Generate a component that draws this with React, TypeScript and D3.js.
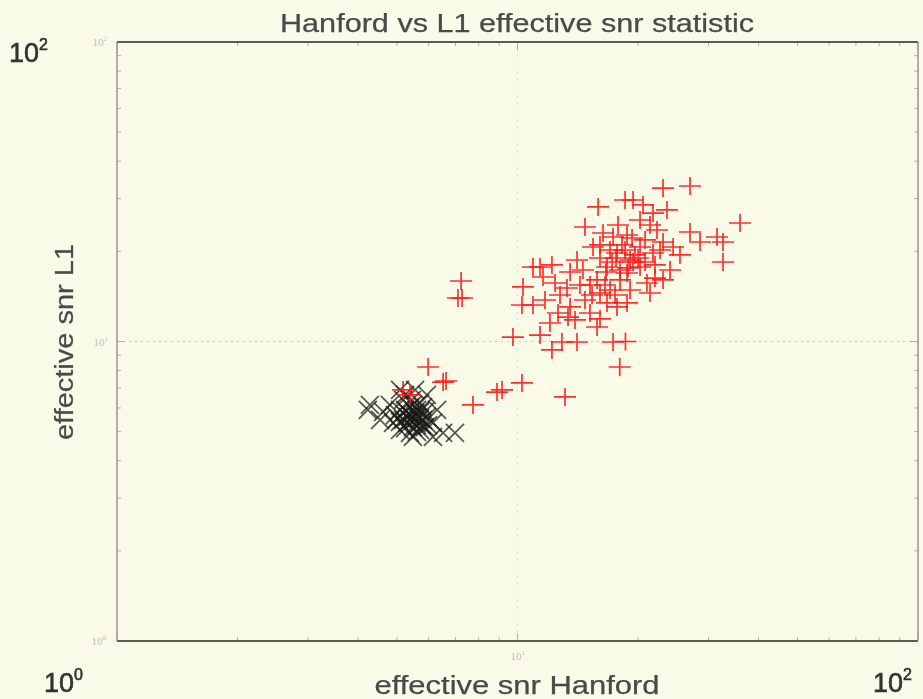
import React from "react";
import * as d3 from "d3";

const title = "Hanford vs L1 effective snr statistic";
const xLabel = "effective snr Hanford";
const yLabel = "effective snr L1";
const domainMin = 1;
const domainMax = 100;
const gridValues = [10];

// Red "+" points: [effective snr Hanford, effective snr L1]
const injX: number[] = [
  7.23, 7.10, 7.27, 5.98, 6.52, 6.63, 7.74, 8.89, 9.15, 10.26, 13.14, 5.39, 5.18, 9.74,
  15.89, 14.74, 18.56, 11.38, 12.19, 10.32, 10.26, 10.93, 12.19, 12.91, 14.08, 11.38,
  12.62, 13.37, 12.05, 13.29, 12.41, 14.08, 14.57, 15.44, 15.80, 17.32, 18.6, 18.0,
  16.07, 16.73, 17.72, 15.80, 16.73, 17.72, 16.35, 17.32, 18.03, 17.02, 15.17, 13.53,
  11.58, 23.09, 26.96, 19.43, 20.58, 23.62, 21.79, 35.94, 26.96, 31.49, 32.60, 28.56,
  23.09, 25.45, 32.60, 24.04, 23.09, 21.42, 18.77, 20.23, 18.77, 20.23, 21.79, 19.10,
  20.23, 18.77, 21.05, 22.30, 24.46, 17.62, 18.56, 19.43, 20.82, 16.54, 21.42, 16.07,
  19.65, 18.03, 17.02, 22.04, 19.10, 15.17, 14.74, 12.77, 11.71, 13.92, 16.07, 10.93,
  17.22, 18.24, 20.0, 18.88, 20.82, 16.63, 15.35, 17.52, 22.69, 19.32, 17.82, 14.32,
  13.53, 16.07, 22.04,
];
const injY: number[] = [
  15.92, 13.97, 13.97, 8.22, 7.32, 7.38, 6.14, 6.78, 6.89, 7.27, 6.53, 6.63, 6.89, 10.35,
  28.13, 24.12, 29.68, 17.73, 18.01, 15.21, 13.24, 13.24, 9.37, 9.96, 9.96, 10.51,
  12.45, 12.07, 11.53, 15.09, 15.68, 18.71, 17.33, 20.68, 11.18, 9.96, 10.0, 8.22,
  14.52, 13.45, 13.04, 16.05, 17.73, 19.75, 23.03, 22.33, 17.33, 14.86, 12.45, 13.04,
  16.42, 32.54, 33.05, 29.68, 28.57, 27.49, 26.85, 24.87, 23.21, 22.33, 21.49, 21.49,
  21.49, 19.45, 18.43, 17.33, 16.05, 14.52, 13.45, 25.45, 22.68, 20.68, 19.75, 18.71,
  17.73, 16.93, 15.68, 23.57, 20.68, 19.00, 20.21, 18.43, 21.83, 15.44, 24.49, 19.00,
  19.45, 16.05, 20.21, 18.01, 14.86, 15.44, 13.76, 14.30, 13.76, 11.80, 11.9, 17.73,
  18.43, 21.01, 19.0, 17.60, 18.43, 17.06, 14.30, 14.30, 20.21, 22.16, 24.49, 15.44,
  17.06, 21.01, 16.29,
];

// Black "x" points: [effective snr Hanford, effective snr L1]
const bgX: number[] = [
  4.28, 4.62, 5.09, 5.55, 5.94, 6.98, 6.52, 6.15, 5.61, 5.39, 4.89, 5.09, 4.80, 5.81,
  5.30, 5.48, 5.94, 5.18, 5.71, 6.30, 4.54, 5.24, 5.39, 5.55, 5.71, 5.48, 5.61, 5.30,
  5.81, 5.87, 5.39, 4.94, 5.09, 5.48, 5.71, 5.18, 5.61, 4.23, 6.15, 5.24,
  5.39, 5.55, 5.71, 5.24, 5.61, 5.87, 5.03, 5.45, 5.98, 5.33, 5.77, 5.09,
];
const bgY: number[] = [
  6.14, 5.82, 6.89, 6.89, 6.63, 4.95, 4.95, 5.35, 5.60, 6.04, 5.35, 5.07, 6.14, 6.04,
  5.60, 5.18, 5.60, 6.38, 5.07, 5.91, 5.47, 5.91, 5.68, 5.47, 5.82, 6.14, 5.26, 5.35,
  5.47, 5.18, 4.95, 5.68, 5.91, 4.80, 6.23, 5.47, 5.91, 5.91, 4.80, 6.63,
  5.47, 5.77, 5.55, 5.14, 4.99, 5.82, 5.55, 6.38, 5.26, 5.77, 5.26, 5.39,
];

const W = 923;
const H = 699;
const left = 117, right = 918, top = 42, bottom = 641;
const font = "'Liberation Sans', Arial, sans-serif";

export default function App() {
  const x = d3.scaleLog().domain([domainMin, domainMax]).range([left, right]);
  const y = d3.scaleLog().domain([domainMin, domainMax]).range([bottom, top]);

  const minor: number[] = [];
  for (let d = 1; d < domainMax; d *= 10) {
    for (let k = 1; k <= 9; k++) minor.push(d * k);
  }
  minor.push(domainMax);

  const redPts = injX.map((v, i) => [x(v), y(injY[i])]);
  const blkPts = bgX.map((v, i) => [x(v), y(bgY[i])]);

  const plusH = 11, plusV = 9, cross = 9;

  return (
    <svg width={W} height={H} style={{ position: "absolute", left: 0, top: 0 }}>
      <defs>
        <filter id="blur" x="-10%" y="-10%" width="120%" height="120%">
          <feGaussianBlur stdDeviation="0.6" />
        </filter>
        <filter id="tblur" x="-5%" y="-20%" width="110%" height="140%">
          <feGaussianBlur stdDeviation="0.5" />
        </filter>
      </defs>
      <rect x={0} y={0} width={W} height={H} fill="#fafae9" />

      {/* grid */}
      {gridValues.map((g) => (
        <g key={"g" + g}>
          <line x1={left} x2={right} y1={y(g)} y2={y(g)} stroke="#c8c8c0" strokeWidth={1} strokeDasharray="2,4" />
          <line x1={x(g)} x2={x(g)} y1={top} y2={bottom} stroke="#e2e2d8" strokeWidth={1} strokeDasharray="2,4" />
        </g>
      ))}

      {/* minor ticks */}
      {minor.map((m, i) => {
        const isMajor = Math.abs(Math.log10(m) - Math.round(Math.log10(m))) < 1e-9;
        const len = isMajor ? 8 : 4;
        return (
          <g key={"t" + i} stroke="#b4b0ac" strokeWidth={1}>
            <line x1={left} x2={left + len} y1={y(m)} y2={y(m)} />
            <line x1={right} x2={right - len} y1={y(m)} y2={y(m)} />
            <line x1={x(m)} x2={x(m)} y1={bottom} y2={bottom - len} />
            <line x1={x(m)} x2={x(m)} y1={top} y2={top + len} />
          </g>
        );
      })}

      {/* frame */}
      <line x1={left} x2={right} y1={top} y2={top} stroke="#5a5a55" strokeWidth={2} />
      <line x1={left} x2={right} y1={bottom} y2={bottom} stroke="#5a5a55" strokeWidth={2} />
      <line x1={left} x2={left} y1={top} y2={bottom} stroke="#9a9494" strokeWidth={1.5} />
      <line x1={right} x2={right} y1={top} y2={bottom} stroke="#9a9494" strokeWidth={1.5} />

      {/* markers */}
      <g filter="url(#blur)">
        {blkPts.map(([px, py], i) => (
          <path
            key={"b" + i}
            d={`M${px - cross},${py - cross}L${px + cross},${py + cross}M${px - cross},${py + cross}L${px + cross},${py - cross}`}
            stroke="#151515"
            strokeOpacity={0.7}
            strokeWidth={1.7}
            fill="none"
          />
        ))}
        {redPts.map(([px, py], i) => (
          <path
            key={"r" + i}
            d={`M${px - plusH},${py}L${px + plusH},${py}M${px},${py - plusV}L${px},${py + plusV}`}
            stroke="#ff1a1a"
            strokeOpacity={0.9}
            strokeWidth={1.7}
            fill="none"
          />
        ))}
      </g>

      {/* small faded tick labels */}
      <g fill="#c0bcbc" fontFamily="'Liberation Serif', serif" fontSize={11}>
        <text x={107} y={y(100) + 4} textAnchor="end">
          10<tspan fontSize={7} dy={-5}>2</tspan>
        </text>
        <text x={108} y={y(10) + 4} textAnchor="end">
          10<tspan fontSize={7} dy={-5}>1</tspan>
        </text>
        <text x={106} y={y(1) + 4} textAnchor="end">
          10<tspan fontSize={7} dy={-5}>0</tspan>
        </text>
        <text x={x(10) - 7} y={660}>
          10<tspan fontSize={7} dy={-5}>1</tspan>
        </text>
      </g>

      <g filter="url(#tblur)">
        {/* large corner labels */}
        <g fill="#333" stroke="#333" strokeWidth={0.6} fontFamily={font} fontSize={27}>
          <text x={9} y={62}>
            10<tspan fontSize={16} dy={-12}>2</tspan>
          </text>
          <text x={44} y={692}>
            10<tspan fontSize={16} dy={-12}>0</tspan>
          </text>
          <text x={873} y={692}>
            10<tspan fontSize={16} dy={-12}>2</tspan>
          </text>
        </g>

        {/* title and axis labels */}
        <g fill="#4a4a4a" stroke="#4a4a4a" strokeWidth={0.25} fontFamily={font}>
          <text x={517} y={32} textAnchor="middle" fontSize={25} textLength={474} lengthAdjust="spacingAndGlyphs">
            {title}
          </text>
          <text x={517} y={694} textAnchor="middle" fontSize={26} textLength={285} lengthAdjust="spacingAndGlyphs">
            {xLabel}
          </text>
          <text
            transform={`translate(73,${342}) rotate(-90)`}
            textAnchor="middle"
            fontSize={26}
            textLength={196}
            lengthAdjust="spacingAndGlyphs"
          >
            {yLabel}
          </text>
        </g>
      </g>
    </svg>
  );
}
